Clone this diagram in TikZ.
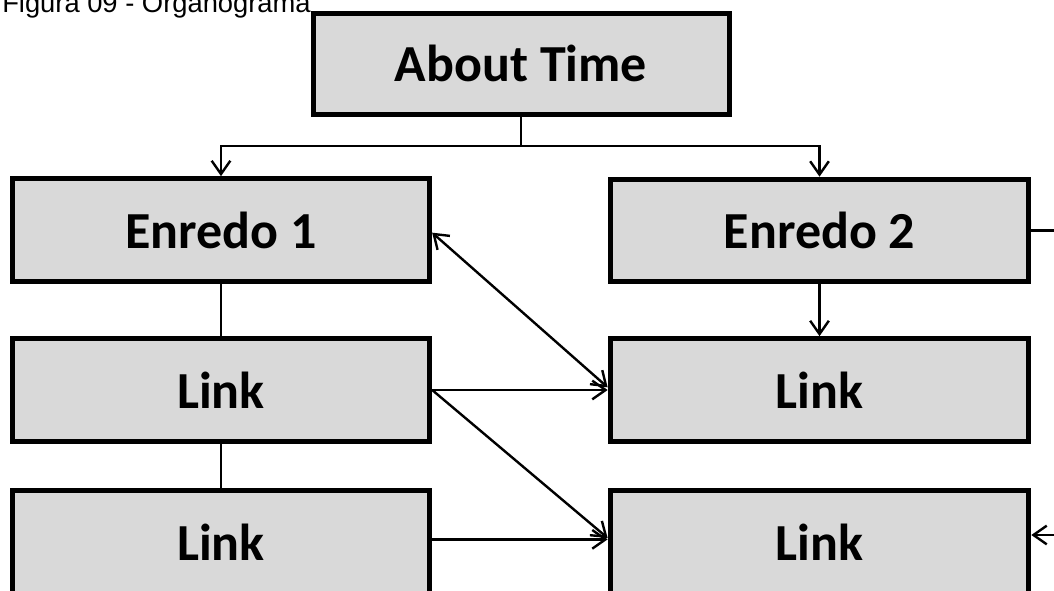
\documentclass[tikz,border=0pt]{standalone}
\usepackage{fontspec}
\setmainfont{Carlito}
\newfontfamily\capfont{Liberation Sans}
\usetikzlibrary{arrows.meta,positioning}
\definecolor{boxgray}{HTML}{D9D9D9}
\tikzset{
  orgbox/.style={draw=black, line width=3.75pt, fill=boxgray, inner sep=0pt,
                 minimum width=313pt, minimum height=77pt, align=center,
                 font=\fontsize{39}{47}\selectfont\bfseries},
  plain/.style={line width=1.8pt, color=black},
  arr/.style={-{Straight Barb[length=10pt,width=14pt]}, line width=1.8pt, color=black},
  darr/.style={{Straight Barb[length=10pt,width=14pt]}-{Straight Barb[length=10pt,width=14pt]},
               line width=1.8pt, color=black},
  caption/.style={font=\capfont\fontsize{20.5}{24}\selectfont, inner sep=0pt}}

\begin{document}
\begin{tikzpicture}[x=0.75pt, y=-0.75pt]
        \useasboundingbox (0,0) rectangle (1054,590);
        \node[caption, anchor=base west] (fig) at (2,12) {Figura 09 - Organograma};
        % top of the chart
        \node[orgbox, minimum height=75.75pt, minimum width=312pt] (about) at (521,63.5) {About Time};
        % left column
        \node[orgbox] (enr1) at (221,230) {Enredo 1};
        \node[orgbox] (lnkA) at (221,390) {Link};
        \node[orgbox] (lnkB) at (221,542) {Link};
        % right column
        \node[orgbox, minimum width=314pt] (enr2) at (819.5,230.5) {Enredo 2};
        \node[orgbox, minimum width=314pt] (lnkC) at (819.5,390) {Link};
        \node[orgbox, minimum width=314pt] (lnkD) at (819.5,542) {Link};
        \coordinate (split) at (521,146);
        \coordinate (exitA) at (1060,230.5);
        \coordinate (exitB) at (1060,535);
        \draw[plain] (about.south) -- (split);
        \draw[arr] (split) -| (enr1.north);
        \draw[arr] (split) -| (enr2.north);
        \draw[plain] (enr1.south) -- (lnkA.north);
        \draw[plain] (lnkA.south) -- (lnkB.north);
        \draw[arr] (enr2.south) -- (lnkC.north);
        \draw[darr] ([yshift=-2pt]enr1.east) -- ([yshift=2pt]lnkC.west);
        \draw[arr] (lnkA.east) -- (lnkC.west);
        \draw[arr] (lnkA.east) -- ([yshift=3pt]lnkD.west);
        \draw[arr] ([yshift=2pt]lnkB.east) -- ([yshift=2pt]lnkD.west);
        % links leaving the picture on the right
        \draw[plain] (enr2.east) -- (exitA);
        \draw[arr] (exitB) -- (lnkD.east |- exitB);
      \end{tikzpicture}
\end{document}
